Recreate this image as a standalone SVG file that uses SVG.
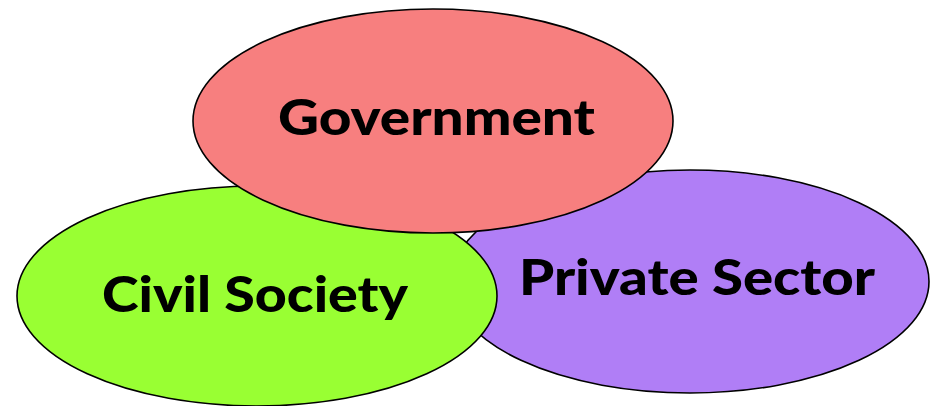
<svg xmlns="http://www.w3.org/2000/svg" width="933" height="406" viewBox="0 0 933 406">
<style>
.e{stroke:#000;stroke-width:1.6}
.t{font-family:Lato,"Liberation Sans",sans-serif;font-weight:900;font-size:50px;fill:#000;text-anchor:middle}
</style>
<rect width="933" height="406" fill="#fff"/>
<g id="private-sector">
<ellipse class="e" cx="690" cy="281.5" rx="239" ry="111.5" fill="#B07EF6"/>
<text class="t" x="697" y="295" textLength="356" lengthAdjust="spacingAndGlyphs">Private Sector</text>
</g>
<g id="civil-society">
<ellipse class="e" cx="257" cy="296" rx="240" ry="110" fill="#99FF33"/>
<text class="t" x="255" y="312" textLength="306" lengthAdjust="spacingAndGlyphs">Civil Society</text>
</g>
<g id="government">
<ellipse class="e" cx="433" cy="121" rx="240" ry="112" fill="#F77F7F"/>
<text class="t" x="436.5" y="135" textLength="317" lengthAdjust="spacingAndGlyphs">Government</text>
</g>
<g id="connectors"/>
</svg>
